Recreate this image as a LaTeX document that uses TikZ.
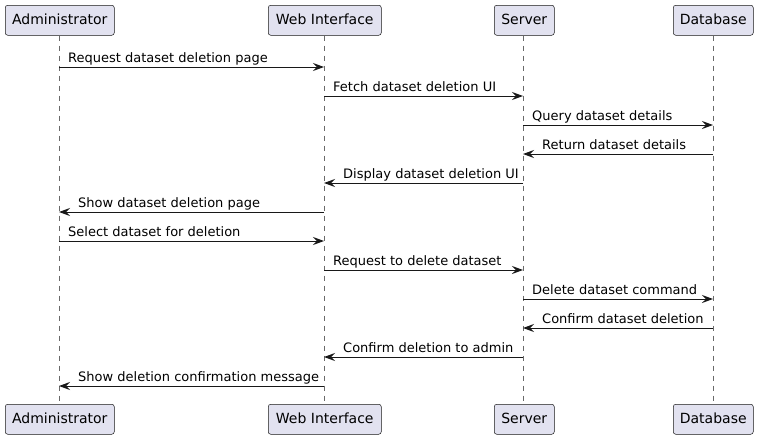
\documentclass[tikz,border=0pt]{standalone}
\usepackage{fontspec}
\setmainfont{DejaVu Sans}
\usetikzlibrary{arrows.meta}
\definecolor{pfill}{HTML}{E2E2F0}
\definecolor{pline}{HTML}{181818}
\begin{document}
\begin{tikzpicture}[x=1pt,y=-1pt,
  participant/.style={draw=pline,fill=pfill,line width=0.5pt,rounded corners=2.5pt,
    inner sep=0pt,minimum height=30pt,text height=10.5pt,text depth=3pt,
    font=\fontsize{14}{16}\selectfont,anchor=north west},
  lifeline/.style={draw=pline!65,line width=0.5pt,dash pattern=on 5pt off 5pt},
  msg/.style={draw=pline,line width=1pt,-{Stealth[length=11pt,width=8pt,inset=4pt]}},
  lbl/.style={font=\fontsize{13}{15}\selectfont,anchor=base west,inner sep=0pt,text=black}]
\useasboundingbox (0,0) rectangle (758,440);
% participants top
\node[participant,minimum width=109pt] (At) at (5,5) {Administrator};
\node[participant,minimum width=113pt] (Wt) at (268,5) {Web Interface};
\node[participant,minimum width=60pt] (St) at (494,5) {Server};
\node[participant,minimum width=80pt] (Dt) at (673,5) {Database};
% participants bottom
\node[participant,minimum width=109pt] (Ab) at (5,404) {Administrator};
\node[participant,minimum width=113pt] (Wb) at (268,404) {Web Interface};
\node[participant,minimum width=60pt] (Sb) at (494,404) {Server};
\node[participant,minimum width=80pt] (Db) at (673,404) {Database};
% lifelines
\coordinate (A) at (59,0);
\coordinate (W) at (324,0);
\coordinate (S) at (523,0);
\coordinate (D) at (713,0);
\draw[lifeline] (A |- At.south) -- (A |- Ab.north);
\draw[lifeline] (W |- Wt.south) -- (W |- Wb.north);
\draw[lifeline] (S |- St.south) -- (S |- Sb.north);
\draw[lifeline] (D |- Dt.south) -- (D |- Db.north);
% messages
\foreach \i/\y in {1/67,2/96,3/125,4/154,5/183,6/212,7/241,8/270,9/299,10/328,11/357,12/386}
  \coordinate (m\i) at (0,\y);
\draw[msg] (A |- m1) -- (W |- m1);
\node[lbl] (l1) at ([shift={(9,-4.5)}]A |- m1) {Request dataset deletion page};
\draw[msg] (W |- m2) -- (S |- m2);
\node[lbl] (l2) at ([shift={(9,-4.5)}]W |- m2) {Fetch dataset deletion UI};
\draw[msg] (S |- m3) -- (D |- m3);
\node[lbl] (l3) at ([shift={(9,-4.5)}]S |- m3) {Query dataset details};
\draw[msg] (D |- m4) -- (S |- m4);
\node[lbl] (l4) at ([shift={(19,-4.5)}]S |- m4) {Return dataset details};
\draw[msg] (S |- m5) -- (W |- m5);
\node[lbl] (l5) at ([shift={(19,-4.5)}]W |- m5) {Display dataset deletion UI};
\draw[msg] (W |- m6) -- (A |- m6);
\node[lbl] (l6) at ([shift={(19,-4.5)}]A |- m6) {Show dataset deletion page};
\draw[msg] (A |- m7) -- (W |- m7);
\node[lbl] (l7) at ([shift={(9,-4.5)}]A |- m7) {Select dataset for deletion};
\draw[msg] (W |- m8) -- (S |- m8);
\node[lbl] (l8) at ([shift={(9,-4.5)}]W |- m8) {Request to delete dataset};
\draw[msg] (S |- m9) -- (D |- m9);
\node[lbl] (l9) at ([shift={(9,-4.5)}]S |- m9) {Delete dataset command};
\draw[msg] (D |- m10) -- (S |- m10);
\node[lbl] (l10) at ([shift={(19,-4.5)}]S |- m10) {Confirm dataset deletion};
\draw[msg] (S |- m11) -- (W |- m11);
\node[lbl] (l11) at ([shift={(19,-4.5)}]W |- m11) {Confirm deletion to admin};
\draw[msg] (W |- m12) -- (A |- m12);
\node[lbl] (l12) at ([shift={(19,-4.5)}]A |- m12) {Show deletion confirmation message};
\end{tikzpicture}
\end{document}
